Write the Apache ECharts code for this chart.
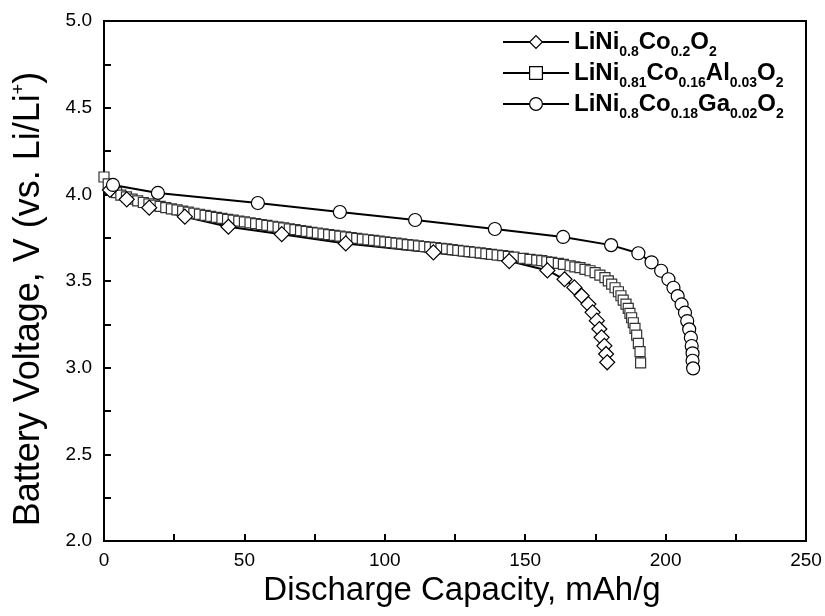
<!DOCTYPE html>
<html><head><meta charset="utf-8">
<script src="https://cdn.jsdelivr.net/npm/echarts@6/dist/echarts.min.js"></script>
<style>html,body{margin:0;padding:0;background:#fff}#c{width:825px;height:616px}</style>
</head><body><div id="c"></div>
<script>
// Series names (legend)
const seriesNames = ['LiNi0.8Co0.2O2', 'LiNi0.81Co0.16Al0.03O2', 'LiNi0.8Co0.18Ga0.02O2'];
// LiNi0.8Co0.2O2 (diamonds)
const diamondC = [2.1, 8.1, 16.1, 28.8, 44.3, 63.3, 86.1, 117.3, 144.3, 157.9, 164.0, 167.5, 170.1, 172.5, 174.0, 175.5, 176.4, 177.2, 178.2, 178.8, 179.2];
const diamondV = [4.025, 3.971, 3.923, 3.871, 3.813, 3.770, 3.717, 3.665, 3.615, 3.561, 3.510, 3.463, 3.415, 3.367, 3.319, 3.271, 3.223, 3.175, 3.126, 3.079, 3.031];
// LiNi0.81Co0.16Al0.03O2 (squares)
const squareC = [0, 1.5, 3, 4.5, 6, 8, 10, 12, 14, 16, 18, 20, 22, 24, 26, 28, 30, 32, 34, 36, 38, 40, 42, 44, 46, 48, 50, 52, 54, 56, 58, 60, 62, 64, 66, 68, 70, 72, 74, 76, 78, 80, 82, 84, 86, 88, 90, 92, 94, 96, 98, 100, 102, 104, 106, 108, 110, 112, 114, 116, 118, 120, 122, 124, 126, 128, 130, 132, 134, 136, 138, 140, 142, 144, 146,
  149.3, 151.7, 154.1, 155.9, 157.7, 159.4, 161.8, 163.6, 166.0, 167.7, 169.5, 171.3, 173.1, 174.9, 176.6, 178.4, 179.6, 180.8, 182.0, 183.2, 184.1, 184.9, 185.9, 186.7, 187.3, 187.9, 188.5, 189.1, 189.7, 190.3, 190.9, 191.1];
const squareV = [4.10, 4.06, 4.03, 4.01, 3.995, 3.985, 3.972, 3.962, 3.953, 3.945, 3.937, 3.930, 3.923, 3.916, 3.910, 3.903, 3.897, 3.891, 3.885, 3.879, 3.873, 3.867, 3.861, 3.856, 3.851, 3.846, 3.841, 3.836, 3.831, 3.826, 3.821, 3.816, 3.811, 3.806, 3.801, 3.796, 3.791, 3.786, 3.781, 3.777, 3.772, 3.768, 3.763, 3.759, 3.755, 3.750, 3.746, 3.742, 3.738, 3.734, 3.730, 3.726, 3.722, 3.718, 3.714, 3.710, 3.707, 3.703, 3.699, 3.696, 3.692, 3.688, 3.685, 3.681, 3.677, 3.673, 3.669, 3.666, 3.662, 3.658, 3.654, 3.650, 3.646, 3.642, 3.638,
  3.631, 3.625, 3.621, 3.617, 3.611, 3.608, 3.602, 3.596, 3.588, 3.582, 3.577, 3.567, 3.559, 3.548, 3.534, 3.519, 3.501, 3.482, 3.461, 3.438, 3.415, 3.390, 3.367, 3.342, 3.313, 3.288, 3.259, 3.227, 3.188, 3.140, 3.092, 3.028];
// LiNi0.8Co0.18Ga0.02O2 (circles)
const circleC = [3.2, 19.2, 54.8, 84.0, 110.8, 139.2, 163.5, 180.6, 190.3, 195.0, 198.4, 201.0, 202.8, 204.3, 205.7, 206.9, 207.7, 208.4, 209.0, 209.3, 209.6, 209.6, 209.8];
const circleV = [4.054, 4.008, 3.950, 3.898, 3.852, 3.800, 3.754, 3.707, 3.660, 3.608, 3.559, 3.510, 3.461, 3.413, 3.365, 3.317, 3.269, 3.221, 3.173, 3.125, 3.083, 3.040, 2.996];

const pairs = (xs, ys) => xs.map((x, i) => [x, ys[i]]);
const legendRich = {
  m: {fontFamily: 'Liberation Sans', fontWeight: 'bold', fontSize: 24, lineHeight: 34, color: '#000'},
  s: {fontFamily: 'Liberation Sans', fontWeight: 'bold', fontSize: 14, lineHeight: 14, verticalAlign: 'bottom', color: '#000'}
};
function legendFmt(name) {
  return name.replace(/([A-Za-z]+)|([0-9.]+)/g, (m, a, b) => a ? '{m|' + a + '}' : '{s|' + b + '}');
}
const tickFont = {fontFamily: 'Liberation Sans', fontSize: 19, color: '#000'};
const common = {type: 'line', showSymbol: true, lineStyle: {color: '#000', width: 2}, itemStyle: {color: '#fff', borderColor: '#000', borderWidth: 1.2}, z: 2, animation: false};

const chart = echarts.init(document.getElementById('c'), null, {renderer: 'canvas'});
chart.setOption({
  animation: false,
  grid: {left: 104, top: 21, right: 19, bottom: 75, show: true, borderColor: '#000', borderWidth: 2, backgroundColor: 'transparent'},
  legend: {
    data: seriesNames, orient: 'vertical', left: 502, top: 30, padding: 0, itemGap: 2,
    itemWidth: 66, itemHeight: 16, itemStyle: {color: '#fff', borderColor: '#000', borderWidth: 1.2},
    formatter: legendFmt, textStyle: {rich: legendRich}
  },
  xAxis: {
    type: 'value', min: 0, max: 250, interval: 50,
    name: 'Discharge Capacity, mAh/g', nameLocation: 'middle', nameGap: 32,
    nameTextStyle: {fontFamily: 'Liberation Sans', fontSize: 33, color: '#000', padding: [0, 0, 0, 14]},
    axisLine: {lineStyle: {color: '#000', width: 2}},
    axisTick: {inside: true, length: 7, lineStyle: {color: '#000', width: 2}},
    minorTick: {show: true, splitNumber: 2, length: 7, lineStyle: {color: '#000', width: 2}},
    axisLabel: Object.assign({margin: 10}, tickFont),
    splitLine: {show: false}
  },
  yAxis: {
    type: 'value', min: 2.0, max: 5.0, interval: 0.5,
    name: '{a|Battery Voltage, V (vs. Li/Li}{p|+}{a|)}', nameLocation: 'middle', nameGap: 56,
    nameTextStyle: {padding: [0, 36, 0, 0], rich: {
      a: {fontFamily: 'Liberation Sans', fontSize: 36, color: '#000', lineHeight: 38},
      p: {fontFamily: 'Liberation Sans', fontSize: 18, color: '#000', verticalAlign: 'top', lineHeight: 38}
    }},
    axisLine: {lineStyle: {color: '#000', width: 2}},
    axisTick: {inside: true, length: 7, lineStyle: {color: '#000', width: 2}},
    minorTick: {show: true, splitNumber: 2, length: 7, lineStyle: {color: '#000', width: 2}},
    axisLabel: Object.assign({margin: 12, formatter: v => v.toFixed(1)}, tickFont),
    splitLine: {show: false}
  },
  series: [
    Object.assign({}, common, {name: seriesNames[1], data: pairs(squareC, squareV), symbol: 'rect', symbolSize: 10, lineStyle: {color: '#000', width: 1.5}, itemStyle: {color: '#fff', borderColor: '#333', borderWidth: 1.2}}),
    Object.assign({}, common, {name: seriesNames[0], data: pairs(diamondC, diamondV), symbol: 'diamond', symbolSize: [15, 15]}),
    Object.assign({}, common, {name: seriesNames[2], data: pairs(circleC, circleV), symbol: 'circle', symbolSize: 13})
  ]
});
</script></body></html>
